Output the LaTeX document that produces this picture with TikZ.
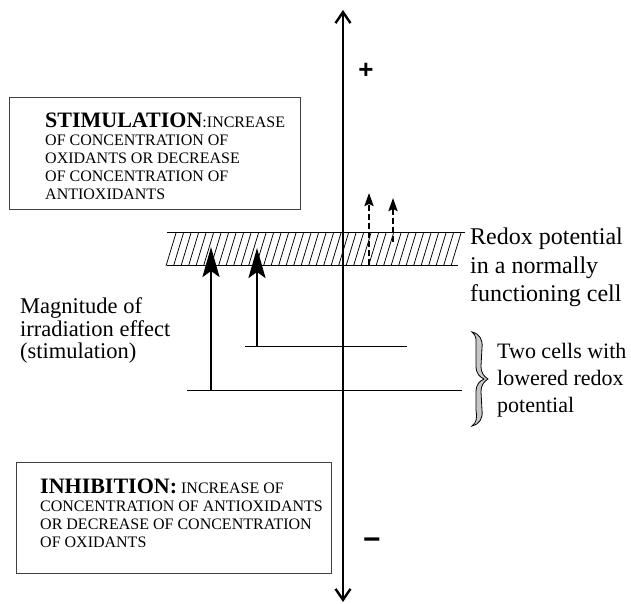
\documentclass[tikz,border=0pt]{standalone}
\usepackage{fontspec}
\setmainfont{Liberation Serif}
\newfontfamily\signfont{Liberation Sans}
\usepackage{tikz}
\usetikzlibrary{arrows.meta,positioning}

\begin{document}
\begin{tikzpicture}[x=1pt, y=1pt,
  panel/.style={draw=black!75, line width=1.1pt, inner sep=0pt},
  paneltext/.style={align=left, inner sep=0pt, anchor=base west, font=\fontsize{16}{18}\selectfont},
  lbl/.style={align=left, inner sep=0pt, anchor=base west},
  axis/.style={line width=2.4pt, {Straight Barb[length=11pt,width=15pt]}-{Straight Barb[length=11pt,width=15pt]}},
  level/.style={line width=1pt},
  hatch/.style={line width=0.75pt},
  rise/.style={line width=2.6pt, -{Stealth[length=30pt,width=17pt,inset=6pt]}},
  drift/.style={line width=2.2pt, dash pattern=on 6pt off 3pt, -{Stealth[length=13pt,width=9pt,inset=2pt]}}]
  \useasboundingbox (0,0) rectangle (631,604);

  % potential axis
  \coordinate (top) at (343,594);
  \coordinate (bottom) at (343,2);
  \draw[axis] (bottom) -- (top);
  \node[font=\signfont\bfseries\fontsize{26}{26}\selectfont] (plus) at (366,533) {+};
  \node[font=\signfont\bfseries\fontsize{30}{30}\selectfont] (minus) at (372,60) {−};

  % boxes (text anchored at its last baseline)
  \node[panel, minimum width=291pt, minimum height=112pt, anchor=north west] (stimbox) at (9,507) {};
  \node[paneltext] (stimtext) at (45,404)
    {{\fontsize{22}{22}\selectfont\bfseries STIMULATION}:INCREASE\\
     OF CONCENTRATION OF\\ OXIDANTS OR DECREASE\\ OF CONCENTRATION OF\\ ANTIOXIDANTS};
  \node[panel, minimum width=315pt, minimum height=111pt, anchor=north west] (inhbox) at (16,142) {};
  \node[paneltext] (inhtext) at (40,56)
    {{\fontsize{22}{22}\selectfont\bfseries INHIBITION:} INCREASE OF\\
     CONCENTRATION OF ANTIOXIDANTS\\ OR DECREASE OF CONCENTRATION\\ OF OXIDANTS};

  % normal redox level (hatched band)
  \coordinate (bandnw) at (167,371);
  \coordinate (bandne) at (465,371);
  \coordinate (bandsw) at (167,338);
  \coordinate (bandse) at (458,338);
  \draw[level] (bandnw) -- (bandne);
  \draw[level] (bandsw) -- (bandse);
  \foreach \x in {166,173.5,...,452}
    \draw[hatch] (\x,338) -- (\x+10,371);

  % lowered levels
  \coordinate (lowa) at (245,257);
  \coordinate (lowaend) at (407,257);
  \coordinate (lowb) at (187,213);
  \coordinate (lowbend) at (462,213);
  \draw[level] (lowa) -- (lowaend);
  \draw[level] (lowb) -- (lowbend);

  % irradiation effect
  \coordinate (risea) at (211,213);
  \coordinate (riseatip) at (211,357);
  \coordinate (riseb) at (257,257);
  \coordinate (risebtip) at (257,356);
  \draw[rise] (risea) -- (riseatip);
  \draw[rise] (riseb) -- (risebtip);
  \coordinate (drifta) at (369,339);
  \coordinate (driftatip) at (369,411);
  \coordinate (driftb) at (393,362);
  \coordinate (driftbtip) at (393,406);
  \draw[drift] (drifta) -- (driftatip);
  \draw[drift] (driftb) -- (driftbtip);

  % brace
  \draw[line width=0.8pt, fill=black!22]
    (472,272) .. controls (480,270) and (483,264) .. (482,256) -- (481,238)
    .. controls (481,230) and (485,227) .. (488,225)
    .. controls (485,223) and (481,220) .. (481,212) -- (482,194)
    .. controls (483,186) and (480,180) .. (472,178)
    .. controls (477,182) and (477,186) .. (476,194) -- (476,212)
    .. controls (476,220) and (480,223) .. (484,225)
    .. controls (480,227) and (476,230) .. (476,238) -- (476,256)
    .. controls (476,264) and (477,268) .. (472,272) -- cycle;

  % labels
  \node[lbl, font=\fontsize{22.5}{22.5}\selectfont] (magnitude) at (20,245)
    {Magnitude of\\irradiation effect\\(stimulation)};
  \node[lbl, font=\fontsize{24}{28.5}\selectfont] (redox) at (470,302)
    {Redox potential\\in a normally\\functioning cell};
  \node[lbl, font=\fontsize{22}{27}\selectfont] (twocells) at (497,191)
    {Two cells with\\lowered redox\\potential};
\end{tikzpicture}
\end{document}
